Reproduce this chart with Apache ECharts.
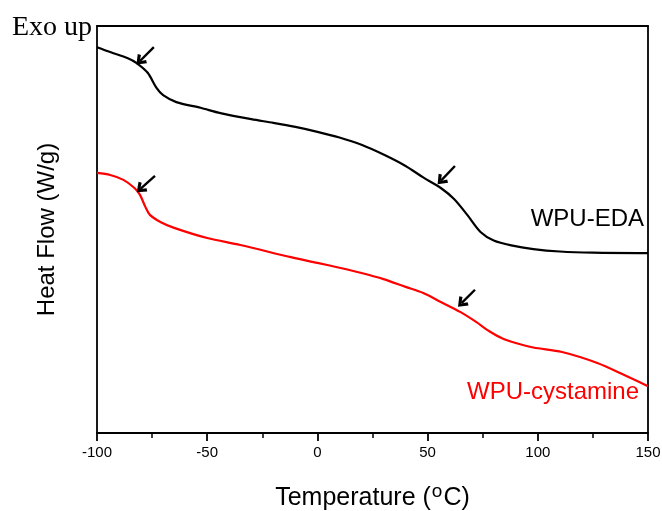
<!DOCTYPE html>
<html>
<head>
<meta charset="utf-8">
<script src="https://cdn.jsdelivr.net/npm/echarts@6/dist/echarts.min.js"></script>
<style>
  html, body { margin: 0; padding: 0; background: #fff; }
  #chart { width: 662px; height: 511px; }
</style>
</head>
<body>
<div id="chart"></div>
<script>
/* DSC curves, heat flow in arbitrary units (0 = bottom of frame, 100 = top) */
var edaTemp = [-100, -94, -86, -82, -77, -73, -70, -64, -53, -44, -30, -20, -10, 0, 10, 20, 30, 40, 48, 56, 62, 68, 74, 80, 88, 98, 110, 125, 150];
var edaFlow = [94.8, 93.6, 92.1, 90.9, 88.5, 84.8, 83.0, 81.3, 79.9, 78.6, 77.1, 76.2, 75.2, 74.0, 72.6, 70.8, 68.4, 65.6, 62.8, 60.2, 57.5, 53.6, 49.4, 47.3, 46.1, 45.2, 44.6, 44.3, 44.2];

var cysTemp = [-100, -94, -88, -83, -80.5, -78, -76, -71, -65, -50, -35, -12, 0, 10, 20, 30, 40, 48, 56, 65, 72, 78, 84, 90, 98, 111, 127, 139, 150];
var cysFlow = [63.9, 63.4, 62.2, 60.2, 58.5, 55.5, 53.6, 51.8, 50.4, 47.9, 46.2, 43.2, 41.8, 40.6, 39.3, 37.8, 35.9, 34.4, 32.2, 29.7, 27.3, 25.0, 23.2, 22.1, 21.0, 19.9, 17.2, 14.3, 11.5];

/* arrows: [tailT, tailFlow, tipT, tipFlow] */
var arrows = [
  [-74.2, 94.8, -80.5, 91.4],
  [62.4, 65.6, 56.1, 62.0],
  [-73.7, 63.2, -80.3, 60.0],
  [71.5, 35.2, 65.4, 31.9]
];

var xTicks = [-100, -50, 0, 50, 100, 150];

var chart = echarts.init(document.getElementById('chart'));

function pairs(xs, ys) {
  var out = [];
  for (var i = 0; i < xs.length; i++) out.push([xs[i], ys[i]]);
  return out;
}

var arrowLines = arrows.map(function (a) {
  return [
    { coord: [a[0], a[1]], symbol: 'none' },
    { coord: [a[2], a[3]], symbol: 'path://M5,0 L10,7.5 L7.8,9 L5,4.2 L2.2,9 L0,7.5 Z', symbolSize: [13, 10] }
  ];
});

var option = {
  backgroundColor: '#fff',
  animation: false,
  grid: { left: 97, right: 14, top: 26, bottom: 78, outerBoundsMode: 'none', containLabel: false },
  xAxis: [{
    type: 'value',
    min: -100, max: 150, interval: 50,
    name: 'Temperature ({sup|o}C)',
    nameLocation: 'middle',
    nameGap: 49,
    nameTextStyle: {
      fontFamily: 'Liberation Sans', fontSize: 25, color: '#000',
      rich: { sup: { fontSize: 19, verticalAlign: 'top', padding: [0, 1, 13, 1], color: '#000', fontFamily: 'Liberation Sans' } }
    },
    axisLine: { show: true, onZero: false, lineStyle: { color: '#000', width: 1.8 } },
    axisTick: { show: true, inside: false, length: 8, lineStyle: { color: '#000', width: 1.8 } },
    minorTick: { show: true, splitNumber: 2, length: 5, lineStyle: { color: '#000', width: 1.5 } },
    axisLabel: {
      color: '#000', fontFamily: 'Liberation Sans', fontSize: 15, margin: 12,
      formatter: function (v) { return xTicks.indexOf(v) >= 0 ? String(v) : ''; }
    },
    splitLine: { show: false }
  }, {
    type: 'value', position: 'top', min: -100, max: 150,
    axisLine: { show: true, onZero: false, lineStyle: { color: '#000', width: 1.8 } },
    axisTick: { show: false }, axisLabel: { show: false }, splitLine: { show: false }
  }],
  yAxis: [{
    type: 'value', min: 0, max: 100,
    name: 'Heat Flow (W/g)',
    nameLocation: 'middle',
    nameGap: 38,
    nameRotate: 90,
    nameTextStyle: { fontFamily: 'Liberation Sans', fontSize: 24, color: '#000' },
    axisLine: { show: true, onZero: false, lineStyle: { color: '#000', width: 1.8 } },
    axisTick: { show: false }, axisLabel: { show: false }, splitLine: { show: false }
  }, {
    type: 'value', position: 'right', min: 0, max: 100,
    axisLine: { show: true, onZero: false, lineStyle: { color: '#000', width: 1.8 } },
    axisTick: { show: false }, axisLabel: { show: false }, splitLine: { show: false }
  }],
  series: [{
    name: 'WPU-EDA',
    type: 'line',
    data: pairs(edaTemp, edaFlow),
    smooth: 0.3,
    showSymbol: false,
    lineStyle: { color: '#000', width: 2.2 }
  }, {
    name: 'WPU-cystamine',
    type: 'line',
    data: pairs(cysTemp, cysFlow),
    smooth: 0.3,
    showSymbol: false,
    lineStyle: { color: '#ff0000', width: 2.2 }
  }, {
    name: 'arrows',
    type: 'line',
    data: [],
    markLine: {
      silent: true,
      animation: false,
      label: { show: false },
      lineStyle: { color: '#000', width: 2.4, type: 'solid' },
      itemStyle: { color: '#000' },
      data: arrowLines
    }
  }],
  graphic: [{
    type: 'text', x: 12, y: 28,
    style: { text: 'Exo up', font: '28px "Liberation Serif"', fill: '#000', verticalAlign: 'middle' }
  }, {
    type: 'text', x: 644, y: 219,
    style: { text: 'WPU-EDA', font: '24px "Liberation Sans"', fill: '#000', align: 'right', verticalAlign: 'middle' }
  }, {
    type: 'text', x: 639, y: 392,
    style: { text: 'WPU-cystamine', font: '24px "Liberation Sans"', fill: '#ff0000', align: 'right', verticalAlign: 'middle' }
  }]
};

chart.setOption(option);
</script>
</body>
</html>
